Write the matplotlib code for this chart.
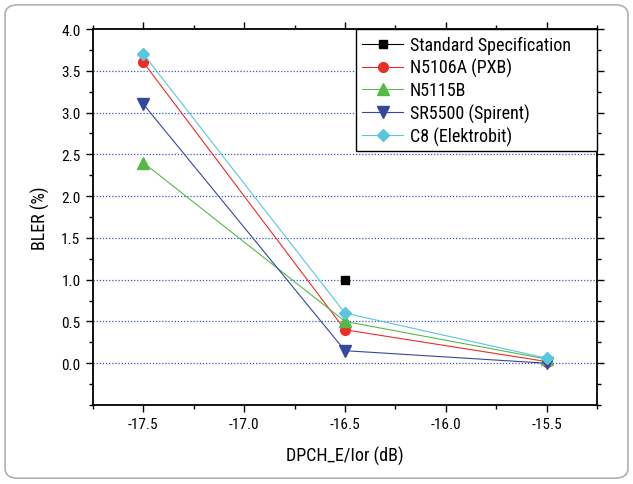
import matplotlib
matplotlib.use("Agg")
import matplotlib.pyplot as plt
from matplotlib.patches import FancyBboxPatch, Rectangle
from matplotlib.ticker import MultipleLocator

plt.rcParams['font.family'] = ['Roboto Condensed', 'DejaVu Sans']
plt.rcParams['axes.unicode_minus'] = False

x_db = [-17.5, -16.5, -15.5]
std_x = [-16.5]
std_bler = [1.0]
n5106a = [3.6, 0.4, 0.02]
n5115b = [2.4, 0.5, 0.05]
sr5500 = [3.1, 0.15, 0.0]
c8 = [3.7, 0.6, 0.06]

fig = plt.figure(figsize=(6.33, 4.85), dpi=100)
fig.patch.set_facecolor('white')
frame = FancyBboxPatch((0.008, 0.012), 0.984, 0.976,
                       boxstyle="round,pad=0,rounding_size=0.02",
                       transform=fig.transFigure, facecolor='white',
                       edgecolor='#b0b0b0', linewidth=1.2, zorder=-1)
fig.patches.append(frame)

ax = fig.add_axes([93/633, 1 - 406/485, (597-93)/633, (406-30)/485])
ax.set_xlim(-17.75, -15.25)
ax.set_ylim(-0.5, 4.0)

for y in [0, 0.5, 1.0, 1.5, 2.0, 2.5, 3.0, 3.5]:
    ax.axhline(y, color='#3f55c0', linestyle=(0, (1, 1.5)), linewidth=0.9, zorder=1)

ax.plot(std_x, std_bler, color='black', marker='s', markersize=6, linestyle='-',
        linewidth=0.8, label='Standard Specification', zorder=5)
ax.plot(x_db, n5106a, color='#ec2c26', marker='o', markersize=7, linewidth=0.8,
        label='N5106A (PXB)', zorder=4)
ax.plot(x_db, n5115b, color='#55b948', marker='^', markersize=8, linewidth=0.8,
        label='N5115B', zorder=4)
ax.plot(x_db, sr5500, color='#3548a0', marker='v', markersize=8, linewidth=0.8,
        label='SR5500 (Spirent)', zorder=4)
ax.plot(x_db, c8, color='#5ac6de', marker='D', markersize=6.5, linewidth=0.8,
        label='C8 (Elektrobit)', zorder=4)

ax.xaxis.set_minor_locator(MultipleLocator(0.25))
ax.yaxis.set_minor_locator(MultipleLocator(0.25))
ax.set_yticks([0, 0.5, 1.0, 1.5, 2.0, 2.5, 3.0, 3.5, 4.0])
ax.set_xticks([-17.5, -17.0, -16.5, -16.0, -15.5])
ax.tick_params(which='both', direction='out', top=True, right=True,
               labeltop=False, labelright=False, width=1.0)
ax.tick_params(which='major', length=5, labelsize=11, pad=4)
ax.tick_params(which='minor', length=3)
for s in ax.spines.values():
    s.set_linewidth(1.3)

ax.set_xlabel('DPCH_E/Ior (dB)', fontsize=13, labelpad=10)
ax.set_ylabel('BLER (%)', fontsize=13, labelpad=8)

# legend box spans to the right spine, with extra room after the text
box = Rectangle((0.522, 0.6755), 1 - 0.522, 1 - 0.6755, transform=ax.transAxes,
                facecolor='white', edgecolor='black', linewidth=1.0, zorder=6,
                clip_on=False)
ax.add_patch(box)
leg = ax.legend(loc='upper left', bbox_to_anchor=(0.52, 1.0), borderaxespad=0,
                frameon=False, fontsize=13, handlelength=2.27,
                handletextpad=0.35, labelspacing=0.22, borderpad=0.4)
leg.set_zorder(7)

fig.savefig('out.png', dpi=100)
